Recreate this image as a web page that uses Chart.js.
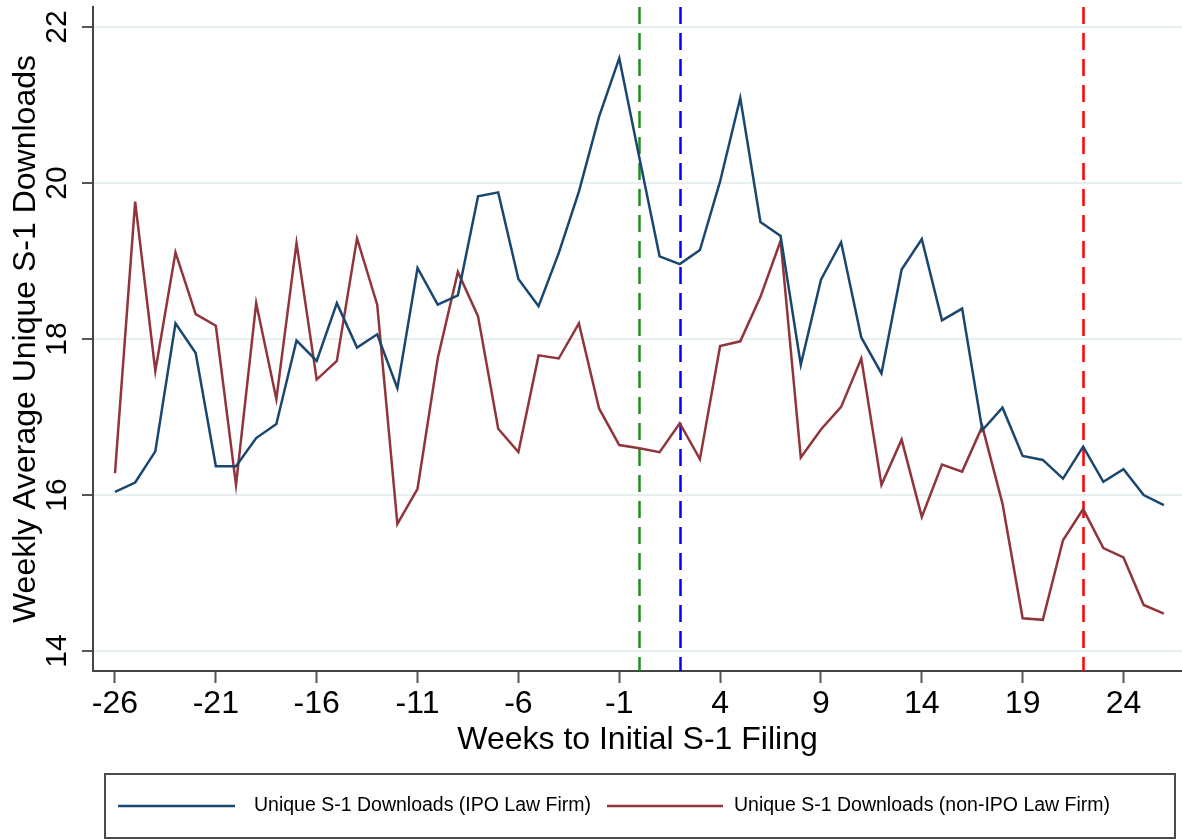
<!DOCTYPE html>
<html>
<head>
<meta charset="utf-8">
<script src="https://cdn.jsdelivr.net/npm/chart.js@4"></script>
<style>
  html, body { margin: 0; padding: 0; background: #fff; }
  #wrap { width: 1182px; height: 840px; }
</style>
</head>
<body>
<div id="wrap"><canvas id="downloadsChart"></canvas></div>
<script>
// weeks relative to the initial S-1 filing
const weeks = [-26, -25, -24, -23, -22, -21, -20, -19, -18, -17, -16, -15, -14, -13, -12, -11, -10, -9, -8, -7, -6, -5, -4, -3, -2, -1,
    0, 1, 2, 3, 4, 5, 6, 7, 8, 9, 10, 11, 12, 13, 14, 15, 16, 17, 18, 19, 20, 21, 22, 23, 24, 25, 26];

const ipoFirm = [16.04, 16.16, 16.56, 18.20, 17.82, 16.37, 16.37, 16.73, 16.91, 17.98, 17.72, 18.46, 17.89, 18.06, 17.37, 18.91,
    18.44, 18.56, 19.83, 19.88, 18.77, 18.42, 19.10, 19.89, 20.85, 21.60, 20.32, 19.06, 18.96, 19.14, 20.02, 21.09,
    19.50, 19.32, 17.67, 18.76, 19.24, 18.02, 17.56, 18.89, 19.28, 18.24, 18.39, 16.83, 17.12, 16.50, 16.45, 16.21,
    16.62, 16.17, 16.33, 16.00, 15.87];

const nonIpoFirm = [16.28, 19.76, 17.59, 19.11, 18.32, 18.17, 16.13, 18.46, 17.23, 19.23, 17.48, 17.72, 19.29, 18.44, 15.63, 16.08,
    17.75, 18.86, 18.29, 16.85, 16.55, 17.79, 17.75, 18.20, 17.11, 16.64, 16.60, 16.55, 16.92, 16.46, 17.91, 17.97,
    18.54, 19.26, 16.48, 16.84, 17.13, 17.75, 16.13, 16.71, 15.72, 16.39, 16.30, 16.88, 15.89, 14.42, 14.40, 15.42,
    15.82, 15.32, 15.20, 14.59, 14.48];

const xTicks = [-26, -21, -16, -11, -6, -1, 4, 9, 14, 19, 24];
const yTicks = [14, 16, 18, 20, 22];

// dashed reference weeks
const markerWeeks = [0, 2, 22];
const markerColors = ['#1f8f1f', '#0000ff', '#ff0000'];

const seriesNames = ['Unique S-1 Downloads (IPO Law Firm)', 'Unique S-1 Downloads (non-IPO Law Firm)'];
const seriesColors = ['#1a476f', '#90353b'];

const FONT = "'Liberation Sans', Arial, sans-serif";

// vertical dashed lines
const markerLines = {
    id: 'markerLines',
    beforeDatasetsDraw(chart) {
        const ctx = chart.ctx, x = chart.scales.x, area = chart.chartArea;
        ctx.save();
        ctx.lineWidth = 2.5;
        ctx.setLineDash([17, 9]);
        markerWeeks.forEach((w, i) => {
            const px = Math.round(x.getPixelForValue(w)) + 0.5;
            ctx.strokeStyle = markerColors[i];
            ctx.beginPath();
            ctx.moveTo(px, area.top);
            ctx.lineTo(px, area.bottom);
            ctx.stroke();
        });
        ctx.restore();
    }
};

// rotated y tick labels, Stata style
const yLabels = {
    id: 'yLabels',
    afterDraw(chart) {
        const ctx = chart.ctx, y = chart.scales.y;
        ctx.save();
        ctx.fillStyle = '#000';
        ctx.font = '30px ' + FONT;
        ctx.textAlign = 'center';
        ctx.textBaseline = 'middle';
        yTicks.forEach(v => {
            ctx.save();
            ctx.translate(58, y.getPixelForValue(v));
            ctx.rotate(-Math.PI / 2);
            ctx.fillText(String(v), 0, 0);
            ctx.restore();
        });
        ctx.restore();
    }
};

// boxed legend below the plot
const boxLegend = {
    id: 'boxLegend',
    afterDraw(chart) {
        const ctx = chart.ctx;
        ctx.save();
        ctx.strokeStyle = '#4a4a4a';
        ctx.lineWidth = 2;
        ctx.strokeRect(105, 774, 1070, 64);
        const items = [{ x0: 118, x1: 235, tx: 254 }, { x0: 607, x1: 723, tx: 734 }];
        ctx.font = '19.5px ' + FONT;
        ctx.textBaseline = 'middle';
        items.forEach((it, i) => {
            ctx.strokeStyle = seriesColors[i];
            ctx.lineWidth = 2.5;
            ctx.beginPath();
            ctx.moveTo(it.x0, 806);
            ctx.lineTo(it.x1, 806);
            ctx.stroke();
            ctx.fillStyle = '#000';
            ctx.fillText(seriesNames[i], it.tx, 806);
        });
        ctx.restore();
    }
};

document.addEventListener('DOMContentLoaded', function () {
    const ctx = document.getElementById('downloadsChart').getContext('2d');
    new Chart(ctx, {
        type: 'line',
        data: {
            datasets: [ipoFirm, nonIpoFirm].map((vals, i) => ({
                label: seriesNames[i],
                data: weeks.map((w, j) => ({ x: w, y: vals[j] })),
                borderColor: seriesColors[i],
                borderWidth: 2.5,
                pointRadius: 0,
                tension: 0,
                fill: false
            }))
        },
        options: {
            responsive: true,
            maintainAspectRatio: false,
            animation: false,
            layout: { padding: { top: 7, right: 0, left: 0, bottom: 75 } },
            plugins: {
                legend: { display: false },
                tooltip: { enabled: false }
            },
            scales: {
                x: {
                    type: 'linear',
                    min: -27.09,
                    max: 26.9,
                    afterBuildTicks: s => { s.ticks = xTicks.map(v => ({ value: v })); },
                    afterFit: s => { s.height = 94; },
                    grid: {
                        drawOnChartArea: false,
                        drawTicks: true,
                        tickLength: 12,
                        tickWidth: 2,
                        tickColor: '#555'
                    },
                    border: { color: '#444', width: 2 },
                    ticks: {
                        color: '#000',
                        font: { family: FONT, size: 32 },
                        padding: 2,
                        maxRotation: 0,
                        autoSkip: false
                    },
                    title: {
                        display: true,
                        text: 'Weeks to Initial S-1 Filing',
                        color: '#000',
                        font: { family: FONT, size: 32 },
                        padding: { top: 0, bottom: 6 }
                    }
                },
                y: {
                    min: 13.744,
                    max: 22.256,
                    afterBuildTicks: s => { s.ticks = yTicks.map(v => ({ value: v })); },
                    afterFit: s => { s.width = 93; },
                    grid: {
                        color: '#e8eff1',
                        lineWidth: 2,
                        drawTicks: true,
                        tickLength: 11,
                        tickWidth: 2,
                        tickColor: '#555'
                    },
                    border: { color: '#444', width: 2 },
                    ticks: { display: false },
                    title: {
                        display: true,
                        text: 'Weekly Average Unique S-1 Downloads',
                        color: '#000',
                        font: { family: FONT, size: 32 },
                        padding: { top: 7, bottom: 0 }
                    }
                }
            }
        },
        plugins: [markerLines, yLabels, boxLegend]
    });
});
</script>
</body>
</html>
